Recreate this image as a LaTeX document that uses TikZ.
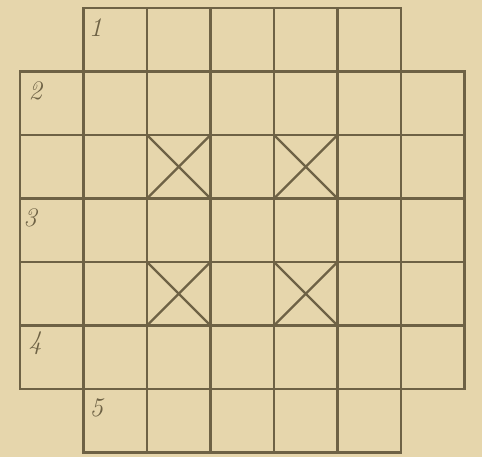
\documentclass[tikz,border=0pt]{standalone}
\usepackage{xcolor}
\usepackage{tikz}
\usetikzlibrary{positioning}
\definecolor{paperBeige}{HTML}{E6D6AC}
\definecolor{inkBrown}{HTML}{6E6245}
\tikzset{
  board/cell/.style  = {draw=inkBrown, line width=1.2pt},
  board/cross/.style = {draw=inkBrown, line width=1pt},
  board/num/.style   = {text=inkBrown, font=\large\itshape, inner sep=0pt},
}
\begin{document}
\begin{tikzpicture}[x=1cm, y=1cm]
      % --- Paper background and fixed margins ---
      \fill[paperBeige] (-0.315,-0.071) rectangle (7.276,7.126);
      \useasboundingbox (-0.315,-0.071) rectangle (7.276,7.126);
      % --- Top and bottom rows (five cells) ---
      \foreach \c in {1,...,5} {
        \draw[board/cell] (\c,6) rectangle +(1,1);
        \draw[board/cell] (\c,0) rectangle +(1,1);
      }
      % --- Middle rows (seven cells) ---
      \foreach \r in {1,...,5}
        \foreach \c in {0,...,6}
          \draw[board/cell] (\c,6-\r) rectangle +(1,1);
      % --- Crossed cells ---
      \foreach \c/\r in {2/2, 4/2, 2/4, 4/4} {
        \draw[board/cross] (\c,7-\r) -- (\c+1,6-\r);
        \draw[board/cross] (\c,6-\r) -- (\c+1,7-\r);
      }
      % --- Row numbers ---
      \node[board/num] (n1) at (1.19,6.69) {1};
      \node[board/num] (n2) at (0.24,5.70) {2};
      \node[board/num] (n3) at (0.16,3.69) {3};
      \node[board/num] (n4) at (0.24,1.72) {4};
      \node[board/num] (n5) at (1.20,0.70) {5};
    \end{tikzpicture}
\end{document}
